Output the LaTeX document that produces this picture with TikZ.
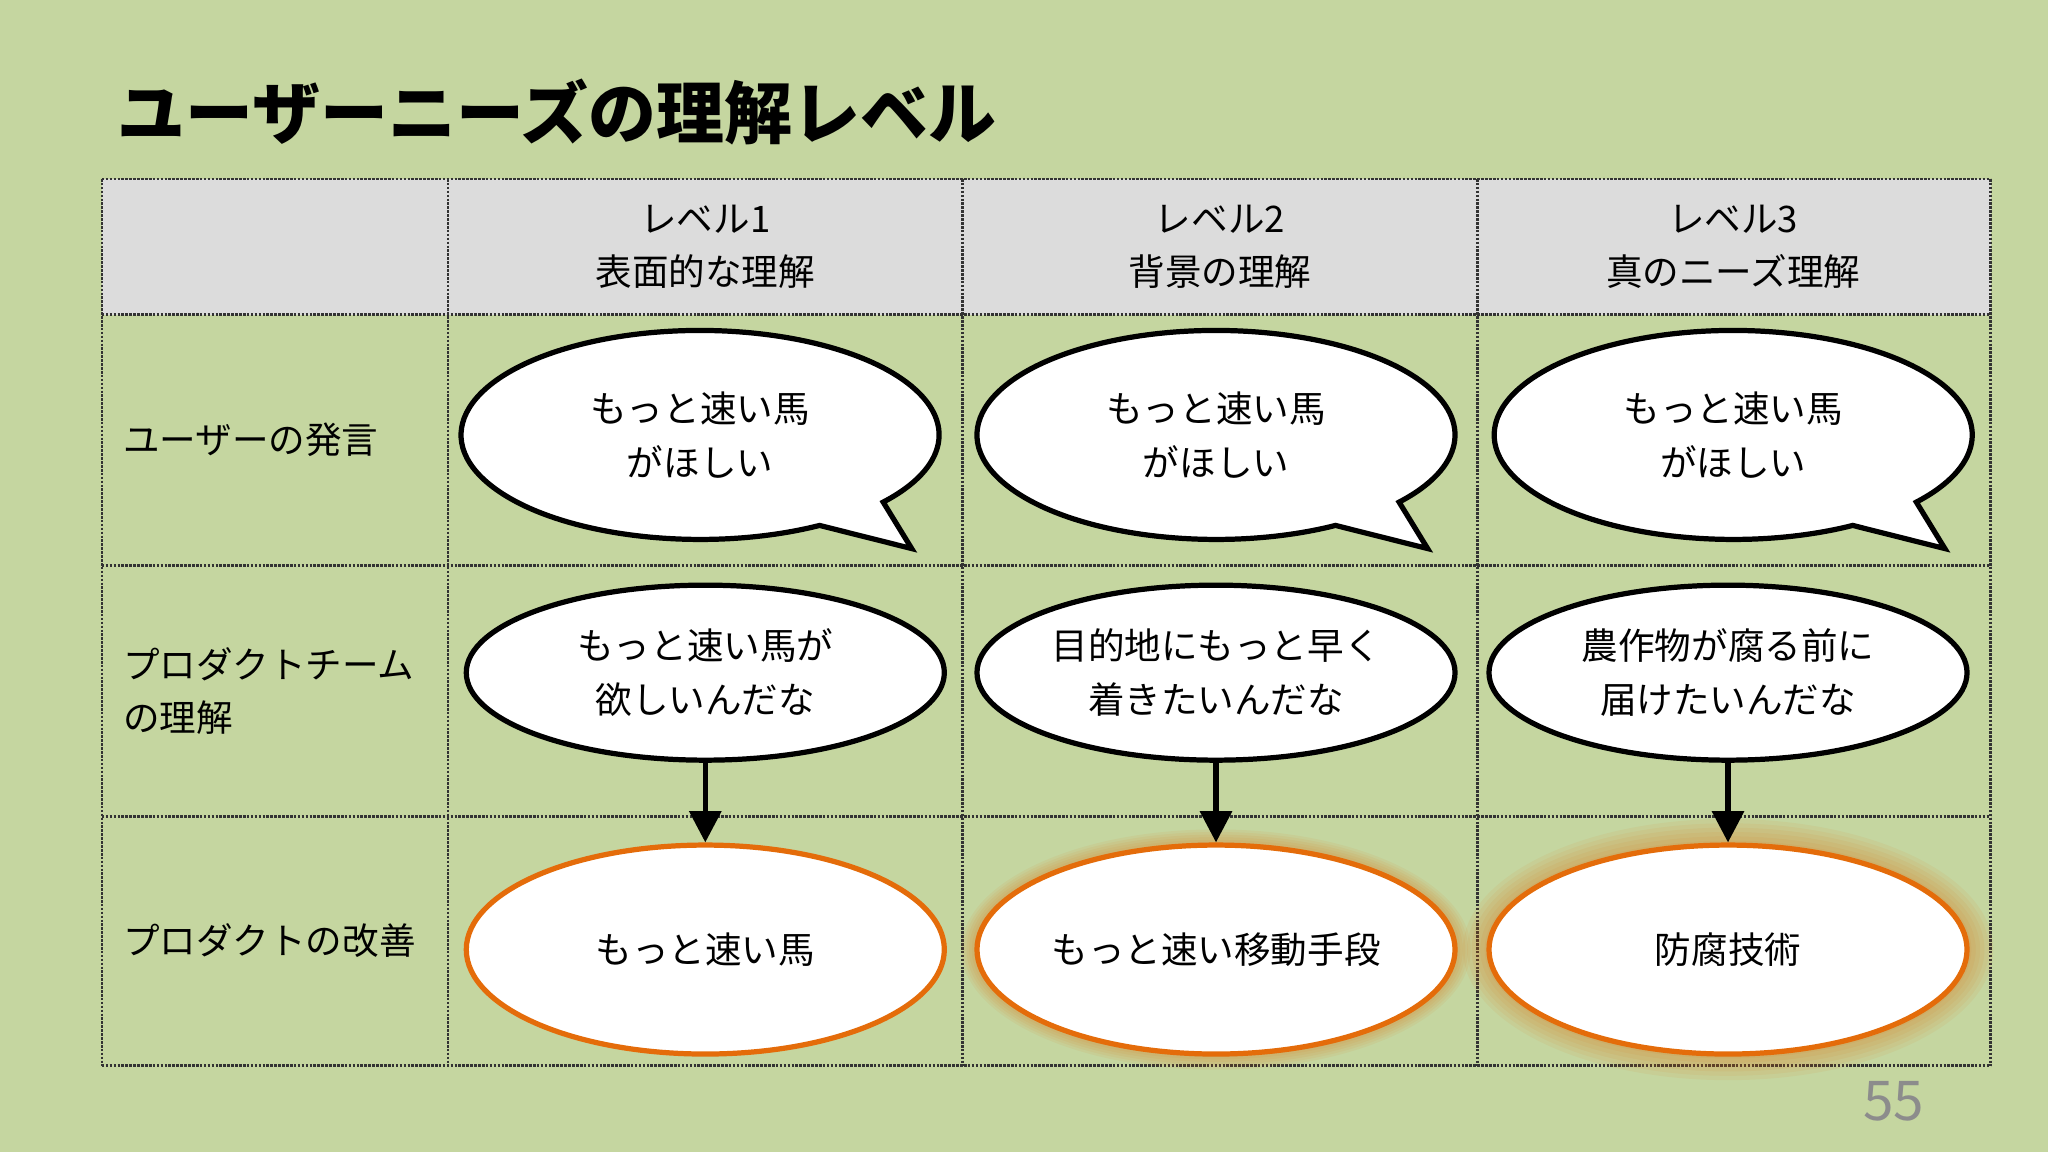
\documentclass[tikz,border=0pt]{standalone}
\usepackage{fontspec}
\setmainfont{Noto Sans CJK JP}
\usetikzlibrary{shapes.geometric,arrows.meta,calc}
\definecolor{bg}{HTML}{C5D6A0}
\definecolor{hdr}{HTML}{DCDCDC}
\definecolor{org}{HTML}{E46C0A}
\begin{document}
\begin{tikzpicture}[x=1pt,y=-1pt,
  grid/.style={densely dotted,line width=2pt,draw=black!80},
  txt/.style={font=\fontsize{28}{41}\selectfont,align=center},
  el/.style={ellipse,draw=black,line width=4pt,fill=white,inner sep=0pt,minimum width=366pt,minimum height=134pt,txt},
  oel/.style={ellipse,draw=org,line width=4pt,fill=white,inner sep=0pt,minimum width=366pt,minimum height=160pt,txt},
  arr/.style={line width=4pt,-{Triangle[length=24pt,width=24pt]}}]
\useasboundingbox (0,0) rectangle (1568,882);
\fill[bg] (0,0) rectangle (1568,882);
\node[anchor=west,font=\fontsize{52}{58}\selectfont\bfseries,inner sep=0pt] (title) at (90,86) {ユーザーニーズの理解レベル};
\fill[hdr] (78,137) rectangle (1524,241);
\foreach \y in {137,241,433,625,816} \draw[grid] (78,\y) -- (1524,\y);
\foreach \x in {78,343,737,1131,1524} \draw[grid] (\x,137) -- (\x,816);
\node[txt] (h1) at (540,189) {レベル1\\表面的な理解};
\node[txt] (h2) at (934,189) {レベル2\\背景の理解};
\node[txt] (h3) at (1327,189) {レベル3\\真のニーズ理解};
\node[txt,anchor=west,align=left,inner sep=0pt] (r1) at (94,337) {ユーザーの発言};
\node[txt,anchor=west,align=left,inner sep=0pt] (r2) at (94,529) {プロダクトチーム\\の理解};
\node[txt,anchor=west,align=left,inner sep=0pt] (r3) at (94,720) {プロダクトの改善};
\foreach \cx/\n in {536/b1,931/b2,1327/b3}{
  \draw[line width=4pt,fill=white,line join=miter] ($(\cx,333)+(60:183 and 80)$) arc[start angle=60,end angle=400,x radius=183,y radius=80] -- ($(\cx,333)+(162,87)$) -- cycle;
  \node[txt] (\n) at (\cx,333) {もっと速い馬\\がほしい};
}
\node[el] (u1) at (540,515) {もっと速い馬が\\欲しいんだな};
\node[el] (u2) at (931,515) {目的地にもっと早く\\着きたいんだな};
\node[el] (u3) at (1323,515) {農作物が腐る前に\\届けたいんだな};
\foreach \cx/\g in {931/6,1323/10}{
  \foreach \k in {1,...,6}
    \fill[org,opacity=0.07] (\cx,727) ellipse[x radius={183+\g*\k/3},y radius={80+\g*\k/3}];
}
\node[oel] (p1) at (540,727) {もっと速い馬};
\node[oel] (p2) at (931,727) {もっと速い移動手段};
\node[oel] (p3) at (1323,727) {防腐技術};
\foreach \i in {1,2,3} \draw[arr] (u\i.south) -- (p\i.north);
\node[font=\fontsize{42}{48}\selectfont,text=black!45] (pg) at (1450,843) {55};
\end{tikzpicture}
\end{document}
